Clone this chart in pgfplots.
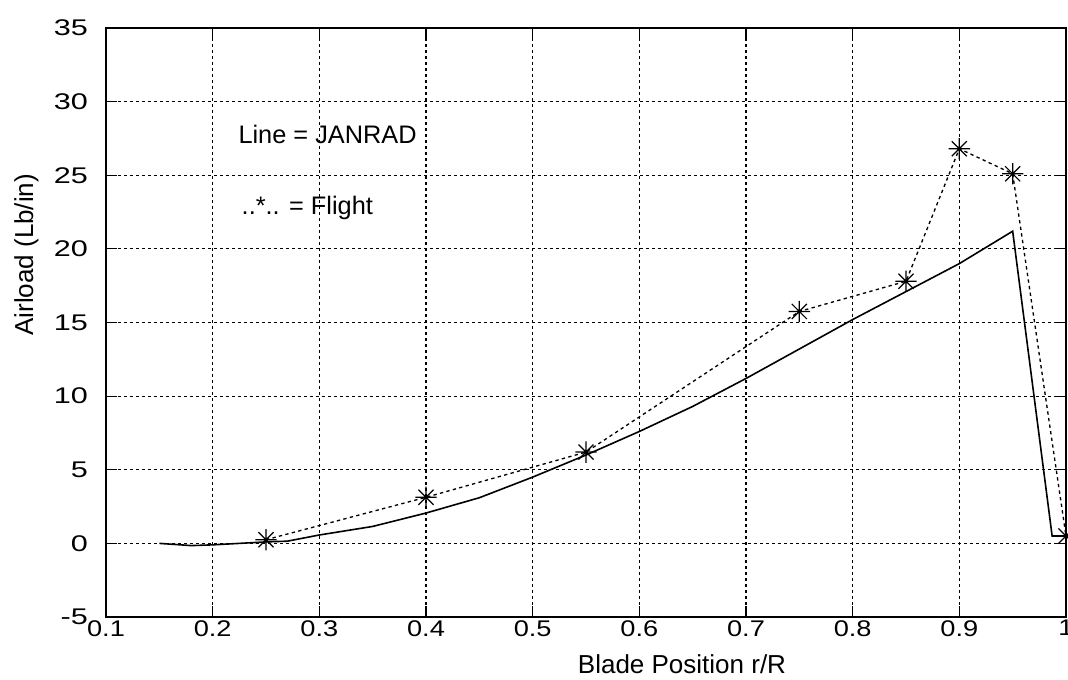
\documentclass[border=0pt]{standalone}
\usepackage{fontspec}
\setmainfont{Liberation Sans}
\newfontfamily\tickfont{Liberation Sans}[FakeStretch=1.2]
\newfontfamily\ytickfont{Liberation Sans}[FakeStretch=1.35]
\usepackage{pgfplots}
\pgfplotsset{compat=1.18}
\pgfdeclareplotmark{mstar}{%
  \pgfpathmoveto{\pgfqpoint{-\pgfplotmarksize}{0pt}}%
  \pgfpathlineto{\pgfqpoint{\pgfplotmarksize}{0pt}}%
  \pgfpathmoveto{\pgfqpoint{0pt}{-\pgfplotmarksize}}%
  \pgfpathlineto{\pgfqpoint{0pt}{\pgfplotmarksize}}%
  \pgfpathmoveto{\pgfqpoint{-0.707\pgfplotmarksize}{-0.707\pgfplotmarksize}}%
  \pgfpathlineto{\pgfqpoint{0.707\pgfplotmarksize}{0.707\pgfplotmarksize}}%
  \pgfpathmoveto{\pgfqpoint{-0.707\pgfplotmarksize}{0.707\pgfplotmarksize}}%
  \pgfpathlineto{\pgfqpoint{0.707\pgfplotmarksize}{-0.707\pgfplotmarksize}}%
  \pgfusepathqstroke}
\pgfplotstableread{
x y
0.15 0.0
0.18 -0.15
0.20 -0.1
0.25 0.1
0.27 0.15
0.30 0.57
0.35 1.15
0.40 2.06
0.45 3.1
0.50 4.5
0.55 6.0
0.60 7.6
0.65 9.3
0.70 11.2
0.75 13.2
0.80 15.2
0.85 17.1
0.90 19.0
0.95 21.2
0.987 0.5
1.00 0.5
}\janrad
\pgfplotstableread{
x y
0.25 0.25
0.40 3.13
0.55 6.2
0.75 15.75
0.85 17.8
0.90 26.8
0.95 25.1
1.00 0.5
}\flight
\begin{document}
\begin{tikzpicture}
\begin{axis}[
  scale only axis, width=720pt, height=441.75pt,
  xmin=0.1, xmax=1, ymin=-5, ymax=35,
  xtick={0.1,0.2,0.3,0.4,0.5,0.6,0.7,0.8,0.9,1},
  xticklabels={0.1,0.2,0.3,0.4,0.5,0.6,0.7,0.8,0.9,1},
  ytick={-5,0,5,10,15,20,25,30,35},
  tick align=inside, xtick pos=both, ytick pos=both,
  major tick length=8pt,
  grid=major,
  major grid style={black, line width=0.8pt, dash pattern=on 2.5pt off 2pt},
  axis line style={black, line width=1.1pt},
  tick style={black, line width=0.9pt},
  /pgf/number format/assume math mode=true,
  xticklabel style={font=\tickfont\fontsize{17}{20}\selectfont, text=black, yshift=1pt},
  yticklabel style={font=\ytickfont\fontsize{17}{20}\selectfont, text=black, xshift=-10pt},
  xlabel={Blade Position r/R},
  ylabel={Airload (Lb/in)},
  label style={font=\fontsize{19.5}{23}\selectfont},
  xlabel style={at={(axis description cs:0.6,0)}, anchor=base, yshift=-42pt},
  ylabel style={at={(axis description cs:-0.076,0.615)}, anchor=base},
  clip=false,
]
\addplot[black, line width=1.2pt, mark=none] table[x=x,y=y] {\janrad};
\addplot[black, line width=1pt, dash pattern=on 2.5pt off 2.5pt, mark=mstar, mark size=8pt, mark options={solid, line width=0.9pt}] table[x=x,y=y] {\flight};
\node[anchor=west, inner sep=0pt, font=\fontsize{19}{22}\selectfont] at (axis cs:0.224,27.8) {Line = JANRAD};
\node[anchor=west, inner sep=0pt, font=\fontsize{19}{22}\selectfont] at (axis cs:0.227,22.8) {..*.. = Flight};
\end{axis}
\pgfresetboundingbox
\path ([xshift=-79.5pt,yshift=-46.5pt]current axis.south west) rectangle ([xshift=1.5pt,yshift=21pt]current axis.north east);
\end{tikzpicture}
\end{document}
